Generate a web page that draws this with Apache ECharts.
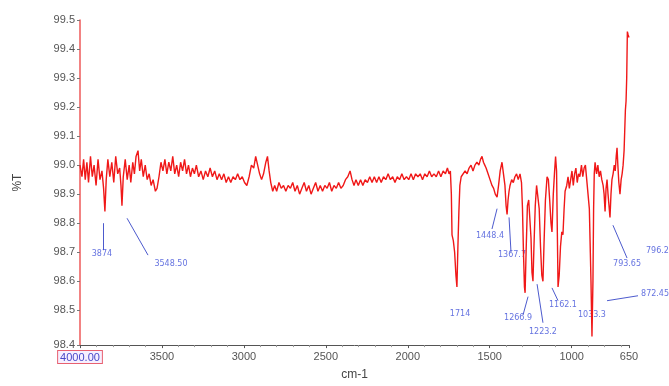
<!DOCTYPE html>
<html>
<head>
<meta charset="utf-8">
<script src="https://cdn.jsdelivr.net/npm/echarts@6/dist/echarts.min.js"></script>
<style>
  html, body { margin: 0; padding: 0; background: #fff; }
  #chart { width: 669px; height: 386px; }
</style>
</head>
<body>
<div id="chart"></div>
<script>
// spectrum (cm-1 / %T)
const wavenumber = [
  4000, 3988, 3978, 3968, 3958, 3948, 3936, 3925, 3914, 3902, 3890, 3878, 3866, 3856, 3848, 3840,
  3830, 3818, 3806, 3794, 3782, 3770, 3758, 3750, 3744, 3736, 3724, 3712, 3700, 3690, 3678, 3668,
  3658, 3646, 3636, 3626, 3614, 3602, 3590, 3578, 3566, 3554, 3540, 3530, 3518, 3506, 3494, 3482,
  3470, 3458, 3446, 3434, 3422, 3410, 3398, 3386, 3374, 3362, 3350, 3338, 3326, 3314, 3302, 3290,
  3276, 3262, 3248, 3234, 3220, 3206, 3192, 3178, 3164, 3150, 3136, 3122, 3108, 3094, 3080, 3066,
  3052, 3038, 3024, 3010, 2996, 2982, 2968, 2954, 2940, 2928, 2916, 2904, 2892, 2880, 2866, 2856,
  2846, 2836, 2824, 2812, 2800, 2786, 2772, 2758, 2744, 2730, 2716, 2702, 2688, 2674, 2660, 2646,
  2632, 2618, 2604, 2590, 2576, 2562, 2548, 2534, 2520, 2506, 2492, 2478, 2464, 2450, 2436, 2422,
  2408, 2394, 2380, 2366, 2352, 2340, 2328, 2316, 2302, 2288, 2274, 2260, 2246, 2232, 2218, 2204,
  2190, 2176, 2162, 2148, 2134, 2120, 2106, 2092, 2078, 2064, 2050, 2036, 2022, 2008, 1994, 1980,
  1966, 1952, 1938, 1924, 1910, 1896, 1882, 1868, 1854, 1840, 1826, 1812, 1798, 1784, 1770, 1758,
  1748, 1740, 1734, 1730, 1722, 1714, 1706, 1700, 1694, 1688, 1682, 1674, 1662, 1650, 1638, 1626,
  1614, 1602, 1590, 1578, 1566, 1556, 1547, 1538, 1530, 1522, 1510, 1498, 1486, 1476, 1466, 1455,
  1446, 1436, 1425, 1416, 1407, 1400, 1394, 1388, 1382, 1376, 1366, 1356, 1346, 1336, 1326, 1315,
  1306, 1300, 1294, 1288, 1284, 1278, 1270, 1262, 1254, 1248, 1242, 1236, 1230, 1222, 1214, 1206,
  1198, 1190, 1182, 1175, 1168, 1160, 1150, 1142, 1134, 1126, 1120, 1112, 1104, 1098, 1092, 1088,
  1083, 1076, 1068, 1060, 1053, 1046, 1040, 1030, 1022, 1014, 1006, 998, 990, 982, 974, 966,
  958, 950, 940, 932, 924, 916, 908, 900, 892, 886, 882, 876, 870, 866, 862, 857,
  848, 840, 832, 824, 816, 808, 802, 796, 790, 784, 778, 772, 766, 760, 754, 747,
  740, 734, 728, 723, 718, 712, 705, 698, 692, 686, 680, 676, 672, 668, 664, 660,
  656, 650
];
const transmittance = [
  99.00, 98.96, 99.02, 98.95, 99.01, 98.94, 99.03, 98.96, 99.00, 98.93, 99.02, 98.95, 98.98, 98.92, 98.84, 98.95,
  99.02, 98.96, 99.01, 98.94, 99.03, 98.97, 98.99, 98.93, 98.86, 98.96, 99.02, 98.95, 99.00, 98.94, 99.01, 98.97,
  99.03, 99.05, 98.98, 99.02, 98.96, 99.00, 98.95, 98.97, 98.93, 98.95, 98.91, 98.92, 98.96, 99.01, 98.98, 99.02,
  98.97, 99.01, 98.98, 99.03, 98.97, 99.00, 98.96, 99.01, 98.98, 99.02, 98.97, 99.00, 98.96, 98.99, 98.97, 99.00,
  98.96, 98.98, 98.95, 98.98, 98.96, 98.99, 98.96, 98.98, 98.95, 98.97, 98.95, 98.97, 98.94, 98.96, 98.94, 98.96,
  98.95, 98.97, 98.95, 98.96, 98.94, 98.93, 98.96, 99.00, 98.99, 99.03, 99.00, 98.97, 98.95, 98.97, 99.01, 99.03,
  98.98, 98.94, 98.91, 98.93, 98.91, 98.94, 98.92, 98.93, 98.91, 98.93, 98.92, 98.94, 98.91, 98.93, 98.90, 98.92,
  98.94, 98.91, 98.93, 98.90, 98.92, 98.94, 98.91, 98.93, 98.91, 98.93, 98.92, 98.94, 98.91, 98.93, 98.92, 98.94,
  98.92, 98.93, 98.95, 98.96, 98.98, 98.95, 98.93, 98.95, 98.93, 98.95, 98.93, 98.95, 98.94, 98.96, 98.94, 98.96,
  98.94, 98.96, 98.94, 98.96, 98.95, 98.97, 98.95, 98.96, 98.94, 98.96, 98.95, 98.97, 98.95, 98.96, 98.95, 98.97,
  98.95, 98.97, 98.96, 98.97, 98.95, 98.97, 98.96, 98.98, 98.96, 98.97, 98.96, 98.98, 98.96, 98.98, 98.97, 98.99,
  98.97, 98.98, 98.90, 98.76, 98.74, 98.70, 98.62, 98.58, 98.72, 98.84, 98.93, 98.96, 98.96, 98.98, 98.97, 98.99,
  99.00, 98.98, 99.00, 99.01, 99.00, 99.02, 99.03, 99.01, 99.00, 98.99, 98.97, 98.95, 98.93, 98.92, 98.90, 98.89,
  98.93, 98.98, 99.01, 98.97, 98.93, 98.86, 98.83, 98.88, 98.91, 98.93, 98.95, 98.94, 98.96, 98.97, 98.95, 98.97,
  98.94, 98.85, 98.70, 98.58, 98.56, 98.70, 98.86, 98.88, 98.88, 98.75, 98.63, 98.60, 98.72, 98.86, 98.93, 98.93,
  98.85, 98.72, 98.62, 98.60, 98.74, 98.88, 98.96, 98.95, 98.88, 98.80, 98.77, 98.90, 98.98, 99.03, 98.98, 98.80,
  98.58, 98.62, 98.72, 98.77, 98.76, 98.85, 98.91, 98.93, 98.96, 98.92, 98.95, 98.98, 98.93, 98.97, 98.99, 98.94,
  98.97, 98.96, 99.00, 98.96, 98.99, 99.00, 98.95, 98.95, 98.85, 98.70, 98.60, 98.41, 98.60, 98.85, 98.97, 99.01,
  98.97, 99.00, 98.96, 98.98, 98.95, 98.93, 98.90, 98.84, 98.92, 98.95, 98.90, 98.86, 98.82, 98.90, 98.95, 98.97,
  99.00, 98.98, 99.03, 99.06, 99.00, 98.94, 98.90, 98.95, 98.97, 99.00, 99.05, 99.12, 99.19, 99.22, 99.30, 99.46,
  99.45, 99.44
];

// peak annotations: text and where it sits (cm-1, %T)
const peakLabels = ['3874', '3548.50', '1448.4', '1367.7', '1714', '1266.9', '1223.2', '1162.1', '1033.3', '793.65', '796.20', '872.45'];
const peakLabelWn = [3866, 3445, 1498, 1364, 1681, 1327, 1175, 1053, 876, 662, 461, 491];
const peakLabelT = [98.693, 98.66, 98.757, 98.69, 98.487, 98.473, 98.427, 98.517, 98.483, 98.66, 98.703, 98.557];
// leader lines (null = no leader drawn)
const leaderFrom = [[3860, 98.80], [3713, 98.817], [1455, 98.85], [1382, 98.82], null, [1266, 98.547], [1211, 98.59], [1120, 98.577], null, [748, 98.793], null, [784, 98.533]];
const leaderTo = [[3860, 98.707], [3585, 98.69], [1486, 98.78], [1370, 98.70], null, [1297, 98.483], [1175, 98.457], [1083, 98.533], null, [662, 98.68], null, [595, 98.55]];

const chart = echarts.init(document.getElementById('chart'));

const spectrum = wavenumber.map((w, i) => [w, transmittance[i]]);
const labelPoints = peakLabels.map((name, i) => ({ name, value: [peakLabelWn[i], peakLabelT[i]] }));
const leaders = [];
leaderFrom.forEach((from, i) => {
  if (from) leaders.push({ coords: [from, leaderTo[i]] });
});

const option = {
  animation: false,
  backgroundColor: '#fff',
  grid: { left: 80, right: 40, top: 20, bottom: 30 },
  xAxis: {
    type: 'value',
    inverse: true,
    min: 650,
    max: 4000,
    name: 'cm-1',
    nameLocation: 'middle',
    nameGap: 19,
    nameTextStyle: { color: '#444', fontSize: 12, fontFamily: 'Liberation Sans' },
    axisLine: { lineStyle: { color: '#555', width: 1 } },
    axisTick: { show: true, length: 3, lineStyle: { color: '#555' } },
    minorTick: { show: true, splitNumber: 5, length: 2, lineStyle: { color: '#999' } },
    splitLine: { show: false },
    axisLabel: {
      showMinLabel: true,
      showMaxLabel: true,
      margin: 6,
      color: '#555',
      fontSize: 11,
      fontFamily: 'Liberation Sans',
      formatter: v => (v === 4000 ? '{box|4000.00}' : String(v)),
      rich: {
        box: {
          color: '#4848c8',
          fontSize: 11,
          fontFamily: 'Liberation Sans',
          borderColor: '#e86070',
          borderWidth: 1,
          backgroundColor: '#f6f0ff',
          padding: [1, 2, 0, 2]
        }
      }
    }
  },
  yAxis: {
    type: 'value',
    min: 98.38,
    max: 99.5,
    splitNumber: 11,
    name: '%T',
    nameLocation: 'middle',
    nameGap: 56,
    nameTextStyle: { color: '#444', fontSize: 12, fontFamily: 'Liberation Sans' },
    axisLine: { show: true, lineStyle: { color: '#ee5a5a', width: 1.5 } },
    axisTick: { show: true, length: 3, lineStyle: { color: '#777' } },
    splitLine: { show: false },
    axisLabel: {
      showMinLabel: true,
      showMaxLabel: true,
      hideOverlap: false,
      margin: 5,
      color: '#555',
      fontSize: 11,
      fontFamily: 'Liberation Sans',
      formatter: v => v.toFixed(1)
    }
  },
  series: [
    {
      type: 'line',
      data: spectrum,
      showSymbol: false,
      clip: true,
      lineStyle: { color: '#f01818', width: 1.4 }
    },
    {
      type: 'lines',
      coordinateSystem: 'cartesian2d',
      clip: false,
      silent: true,
      data: leaders,
      lineStyle: { color: '#3848c8', width: 1, opacity: 0.9 }
    },
    {
      type: 'scatter',
      clip: false,
      silent: true,
      symbolSize: 0,
      data: labelPoints,
      label: {
        show: true,
        position: 'inside',
        formatter: p => p.name,
        color: '#3d4fd8',
        fontSize: 8,
        fontFamily: 'DejaVu Sans'
      }
    }
  ]
};

chart.setOption(option);
</script>
</body>
</html>
